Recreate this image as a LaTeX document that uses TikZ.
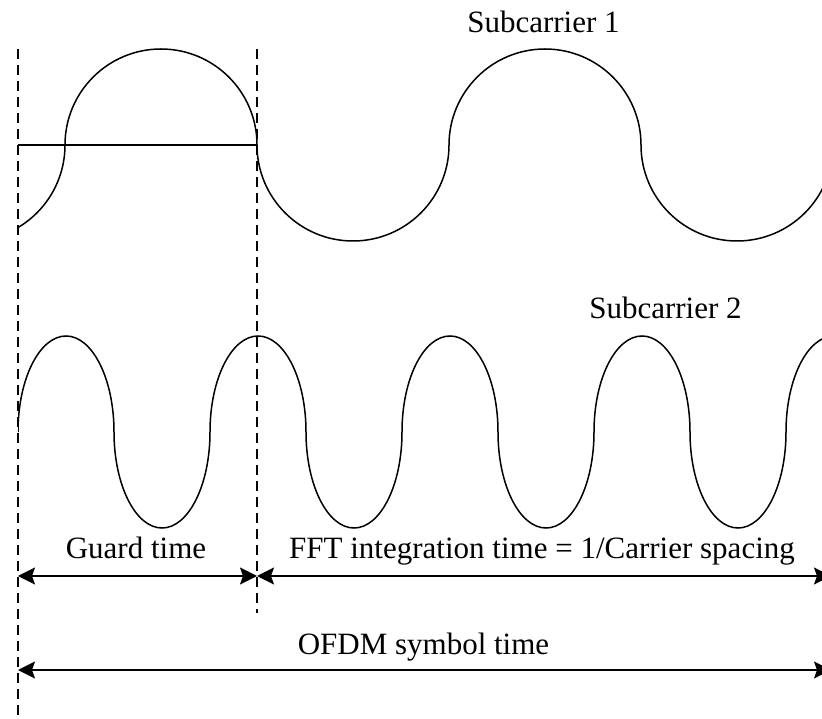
\documentclass[tikz,border=0pt]{standalone}
\usepackage{fontspec}
\setmainfont{Liberation Serif}
\usetikzlibrary{arrows.meta}

\begin{document}
\begin{tikzpicture}[x=1pt,y=1pt,
  wave/.style={line width=1.5pt},
  guide/.style={line width=1.2pt, dash pattern=on 10pt off 6pt},
  span/.style={line width=1.5pt,
    {Stealth[length=17pt,width=17pt,inset=3pt]}-{Stealth[length=17pt,width=17pt,inset=3pt]}},
  lbl/.style={inner sep=0pt, anchor=base, font=\fontsize{31}{36}\selectfont}]
\useasboundingbox (0,0) rectangle (822,718);
\clip (0,0) rectangle (822,718);

% sample instants
\coordinate (g0top) at (18,669);
\coordinate (g0bot) at (18,0);
\coordinate (g1top) at (257,669);
\coordinate (g1bot) at (257,105);
\coordinate (base0) at (18,573);
\coordinate (base1) at (257,573);

% carriers, cut at the start of the symbol
\begin{scope}
  \clip (18,0) rectangle (822,718);
  % subcarrier 1: one period = 384
  \draw[wave] (-127,573)
    arc[start angle=180,end angle=360,radius=96]
    arc[start angle=180,end angle=0,radius=96]
    arc[start angle=180,end angle=360,radius=96]
    arc[start angle=180,end angle=0,radius=96]
    arc[start angle=180,end angle=360,radius=96];
  % subcarrier 2: one period = 192
  \draw[wave] (18,286)
    arc[start angle=180,end angle=0,x radius=48,y radius=96]
    arc[start angle=180,end angle=360,x radius=48,y radius=96]
    arc[start angle=180,end angle=0,x radius=48,y radius=96]
    arc[start angle=180,end angle=360,x radius=48,y radius=96]
    arc[start angle=180,end angle=0,x radius=48,y radius=96]
    arc[start angle=180,end angle=360,x radius=48,y radius=96]
    arc[start angle=180,end angle=0,x radius=48,y radius=96]
    arc[start angle=180,end angle=360,x radius=48,y radius=96]
    arc[start angle=180,end angle=0,x radius=48,y radius=96];
\end{scope}

% zero line over the guard interval
\draw[wave] (base0) -- (base1);

% interval markers
\draw[guide] (g0top) -- (g0bot);
\draw[guide] (g1top) -- (g1bot);

% time spans
\coordinate (fftL) at (18,142);
\coordinate (fftM) at (257,142);
\coordinate (fftR) at (831,142);
\coordinate (symL) at (18,48);
\coordinate (symR) at (831,48);
\draw[span] (fftL) -- (fftM);
\draw[span] (fftM) -- (fftR);
\draw[span] (symL) -- (symR);

% labels
\node[lbl] (sc1) at (543.5,685) {Subcarrier 1};
\node[lbl] (sc2) at (665.5,399) {Subcarrier 2};
\node[lbl] (guard) at (136,159) {Guard time};
\node[lbl] (fft) at (542,159) {FFT integration time = 1/Carrier spacing};
\node[lbl] (sym) at (423.5,64) {OFDM symbol time};
\end{tikzpicture}
\end{document}
